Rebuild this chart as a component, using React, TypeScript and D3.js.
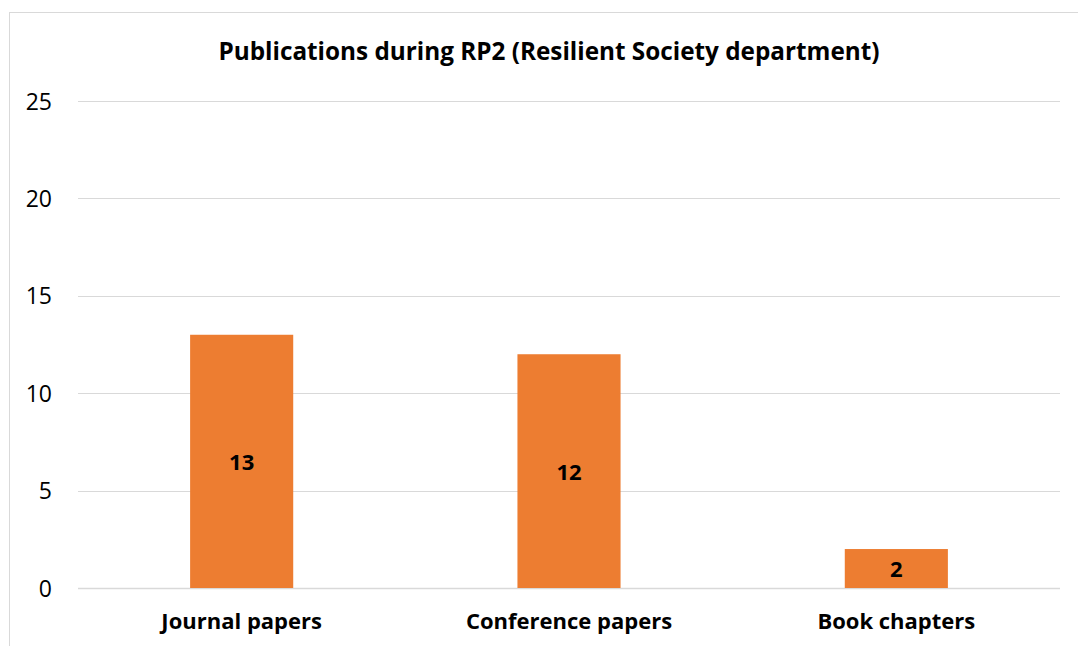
import React from "react";
import * as d3 from "d3";

const title = "Publications during RP2 (Resilient Society department)";
const categories = ["Journal papers", "Conference papers", "Book chapters"];
const values = [13, 12, 2];
const yTicks = [0, 5, 10, 15, 20, 25];

const W = 1078;
const H = 646;
const FONT = "'Open Sans', Lato, sans-serif";

export default function App() {
  const plot = { left: 78, right: 1060, top: 101, bottom: 588 };

  const x = d3
    .scaleBand<string>()
    .domain(categories)
    .range([plot.left, plot.right])
    .paddingInner(0.685)
    .paddingOuter(0.3425);

  const y = d3.scaleLinear().domain([0, 25]).range([plot.bottom, plot.top]);

  return (
    <svg
      width={W}
      height={H}
      style={{ position: "absolute", left: 0, top: 0, background: "#fff" }}
    >
      {/* chart area frame */}
      <rect x={9.5} y={12.5} width={1080} height={660} fill="#fff" stroke="#d9d9d9" strokeWidth={1} />

      <text x={549} y={60} textAnchor="middle" fontFamily={FONT} fontWeight="bold" fontSize={24.3} fill="#000">
        {title}
      </text>

      {/* gridlines */}
      {yTicks.map((t) => (
        <line
          key={t}
          x1={plot.left}
          x2={plot.right}
          y1={Math.round(y(t)) + 0.5}
          y2={Math.round(y(t)) + 0.5}
          stroke="#d9d9d9"
          strokeWidth={t === 0 ? 1.5 : 1.2}
        />
      ))}

      {/* y tick labels */}
      {yTicks.map((t) => (
        <text key={t} x={52} y={y(t) + 8.5} textAnchor="end" fontFamily={FONT} fontSize={23} fill="#000">
          {t}
        </text>
      ))}

      {/* bars */}
      {categories.map((c, i) => (
        <rect
          key={c}
          x={x(c)!}
          y={y(values[i])}
          width={x.bandwidth()}
          height={y(0) - y(values[i])}
          fill="#ed7d31"
        />
      ))}

      {/* value labels */}
      {categories.map((c, i) => (
        <text
          key={c}
          x={x(c)! + x.bandwidth() / 2}
          y={(y(values[i]) + y(0)) / 2 + 8.5}
          textAnchor="middle"
          fontFamily={FONT}
          fontWeight="bold"
          fontSize={22}
          fill="#000"
        >
          {values[i]}
        </text>
      ))}

      {/* category labels */}
      {categories.map((c) => (
        <text
          key={c}
          x={x(c)! + x.bandwidth() / 2}
          y={629}
          textAnchor="middle"
          fontFamily={FONT}
          fontWeight="bold"
          fontSize={22}
          fill="#000"
        >
          {c}
        </text>
      ))}
    </svg>
  );
}
